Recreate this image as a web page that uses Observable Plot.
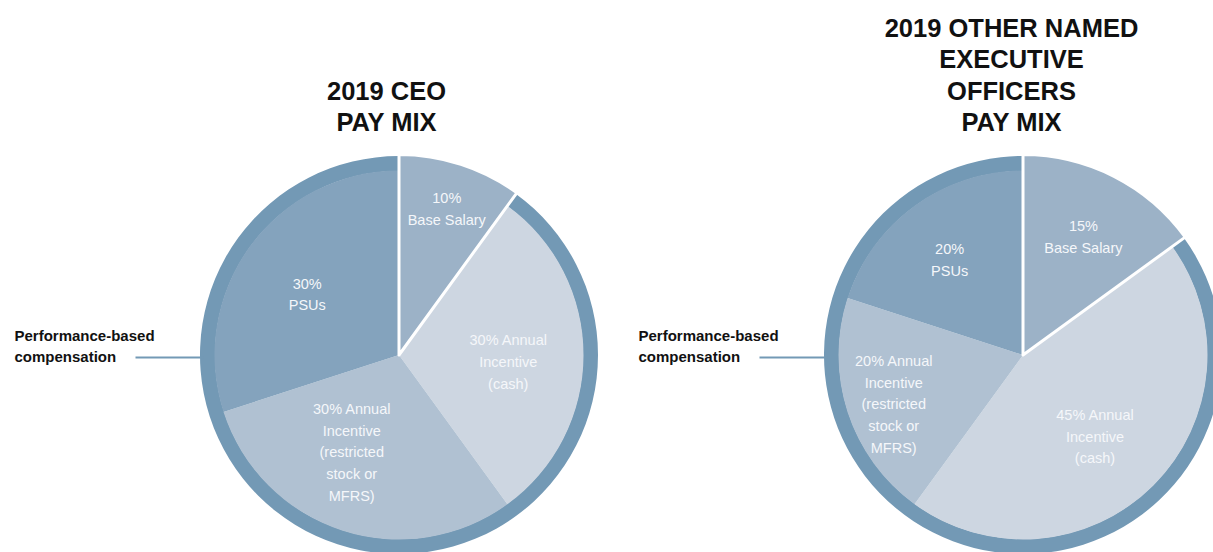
<!DOCTYPE html>
<html><head><meta charset="utf-8">
<script src="https://cdn.jsdelivr.net/npm/d3@7"></script>
<script src="https://cdn.jsdelivr.net/npm/@observablehq/plot@0.6"></script>
<style>
html,body{margin:0;padding:0;overflow:hidden;background:#fff}
g[aria-label="titles"] text{letter-spacing:0.7px}
</style>
</head><body><div id="chart"></div>
<script>
// ---- data ----
const components = ["Base Salary", "Annual Incentive (cash)", "Annual Incentive (restricted stock or MFRS)", "PSUs"];
const ceoShares = [10, 30, 30, 30];
const neoShares = [15, 45, 20, 20];
const ceoLabels = ["10%\nBase Salary", "30% Annual\nIncentive\n(cash)", "30% Annual\nIncentive\n(restricted\nstock or\nMFRS)", "30%\nPSUs"];
const neoLabels = ["15%\nBase Salary", "45% Annual\nIncentive\n(cash)", "20% Annual\nIncentive\n(restricted\nstock or\nMFRS)", "20%\nPSUs"];
const titles = ["2019 CEO\nPAY MIX", "2019 OTHER NAMED\nEXECUTIVE\nOFFICERS\nPAY MIX"];
const calloutText = "Performance-based\ncompensation";

// ---- layout / style ----
const W = 1213, H = 552;
const R = 199, rIn = 184.5;
const FONT = "'Liberation Sans', Arial, Helvetica, sans-serif";
const ringColor = "#7399b5";
const sliceColors = ["#9cb2c7", "#cdd6e1", "#b0c1d2", "#84a3bd"];
const layout = [
  {cx: 399, cy: 355, titleX: 386, labelDeg: [0, 4, 8, -3], labelR: [153, 109, 109, 110], calloutX: 14, lineX1: 135},
  {cx: 1023, cy: 355, titleX: 1011, labelDeg: [0, 4, -3, -2], labelR: [132, 109, 139, 120], calloutX: 638, lineX1: 759}
];
const shares = [ceoShares, neoShares];
const labels = [ceoLabels, neoLabels];

const pie = d3.pie().sort(null).value(d => d).startAngle(0).endAngle(2 * Math.PI);

// slice label positions from arc mid-angles
const labelData = [];
layout.forEach((L, k) => {
  pie(shares[k]).forEach((a, i) => {
    const ang = (a.startAngle + a.endAngle) / 2 + L.labelDeg[i] * Math.PI / 180;
    labelData.push({
      x: L.cx + L.labelR[i] * Math.sin(ang),
      y: L.cy - L.labelR[i] * Math.cos(ang),
      text: labels[k][i]
    });
  });
});

const titleData = titles.map((t, k) => {
  const n = t.split("\n").length;
  return {x: layout[k].titleX, y: 120.5 - (n - 1) * 15.75, text: t};
});
const calloutData = layout.map(L => ({x: L.calloutX, y: 344.5, text: calloutText}));
const linkData = layout.map(L => ({x1: L.lineX1, x2: L.cx - R + 3, y: 357}));

function pieMark(...args) {
  const sc = args.find(a => a && typeof a.x === "function") || {x: v => v, y: v => v};
  const g = d3.create("svg:g");
  layout.forEach((L, k) => {
    const arcs = pie(shares[k]);
    const gg = g.append("g").attr("transform", `translate(${sc.x(L.cx)},${sc.y(L.cy)})`);
    // performance-based ring
    gg.append("path")
      .attr("d", d3.arc()({innerRadius: rIn - 0.5, outerRadius: R, startAngle: arcs[1].startAngle, endAngle: 2 * Math.PI}))
      .attr("fill", ringColor);
    arcs.slice(1).forEach((a, i) => {
      gg.append("path")
        .attr("d", d3.arc().innerRadius(0).outerRadius(rIn)(a))
        .attr("fill", sliceColors[i + 1]);
    });
    gg.append("path")
      .attr("d", d3.arc().innerRadius(0).outerRadius(R + 1.5)(arcs[0]))
      .attr("fill", sliceColors[0])
      .attr("stroke", "white")
      .attr("stroke-width", 3)
      .attr("stroke-linejoin", "round");
  });
  return g.node();
}

const chart = Plot.plot({
  width: W,
  height: H,
  margin: 0,
  x: {domain: [0, W], range: [0, W], axis: null},
  y: {domain: [0, H], range: [0, H], axis: null},
  style: {background: "white", fontFamily: FONT},
  marks: [
    pieMark,
    Plot.link(linkData, {x1: "x1", x2: "x2", y1: "y", y2: "y", stroke: ringColor, strokeWidth: 2}),
    Plot.text(labelData, {x: "x", y: "y", text: "text", dy: -3, fill: "#f5f7fa", fontSize: 14.5, lineHeight: 1.5, fontFamily: FONT}),
    Plot.text(titleData, {x: "x", y: "y", text: "text", fill: "#111", fontSize: 25.5, fontWeight: "bold", lineHeight: 31.5 / 25.5, fontFamily: FONT, ariaLabel: "titles"}),
    Plot.text(calloutData, {x: "x", y: "y", text: "text", fill: "#111", fontSize: 15, fontWeight: "bold", lineHeight: 1.4, textAnchor: "start", fontFamily: FONT})
  ]
});
document.getElementById("chart").appendChild(chart);
</script>
</body></html>
